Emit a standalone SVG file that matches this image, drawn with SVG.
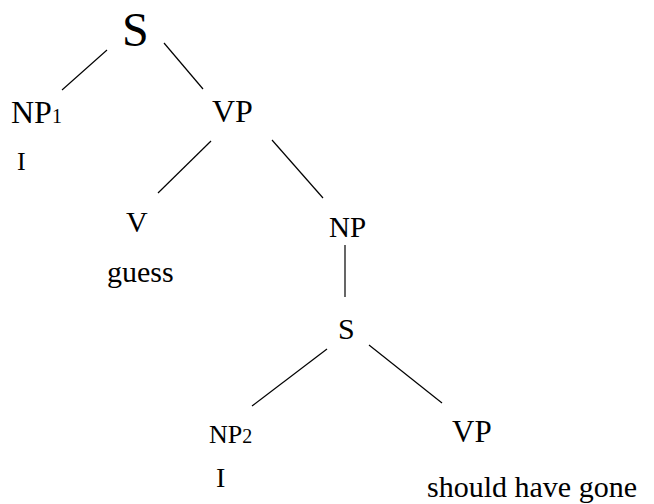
<svg xmlns="http://www.w3.org/2000/svg" width="654" height="504" viewBox="0 0 654 504" font-family="'Liberation Serif', 'Times New Roman', 'DejaVu Serif', serif">
<style>
text{font-family:'Liberation Serif','Times New Roman','DejaVu Serif',serif;fill:#000}
.c line{stroke:#000;stroke-width:1.2}
.sub{font-size:20px}
</style>
<rect width="654" height="504" fill="#fff"/>
<g class="c" id="connectors">
<line x1="107" y1="50" x2="62" y2="90"/>
<line x1="164" y1="43" x2="203" y2="89"/>
<line x1="211" y1="141" x2="158" y2="193"/>
<line x1="272" y1="140" x2="323" y2="198"/>
<line x1="345" y1="245" x2="345" y2="297"/>
<line x1="327" y1="349" x2="252" y2="406"/>
<line x1="369" y1="345" x2="442" y2="403"/>
</g>
<g id="S1"><text x="122" y="46" font-size="48">S</text></g>
<g id="NP1"><text x="11" y="123" font-size="32">NP<tspan class="sub">1</tspan></text></g>
<g id="I1"><text x="17" y="170" font-size="26">I</text></g>
<g id="VP1"><text x="212" y="122" font-size="32">VP</text></g>
<g id="V"><text x="126" y="232" font-size="30">V</text></g>
<g id="guess"><text x="107" y="282" font-size="30">guess</text></g>
<g id="NP"><text x="329" y="237" font-size="29">NP</text></g>
<g id="S2"><text x="338" y="339" font-size="30">S</text></g>
<g id="NP2"><text x="209" y="443" font-size="26">NP<tspan class="sub">2</tspan></text></g>
<g id="I2"><text x="216" y="487" font-size="28">I</text></g>
<g id="VP2"><text x="452" y="442" font-size="31">VP</text></g>
<g id="shg"><text x="427" y="497" font-size="30">should have gone</text></g>
</svg>
